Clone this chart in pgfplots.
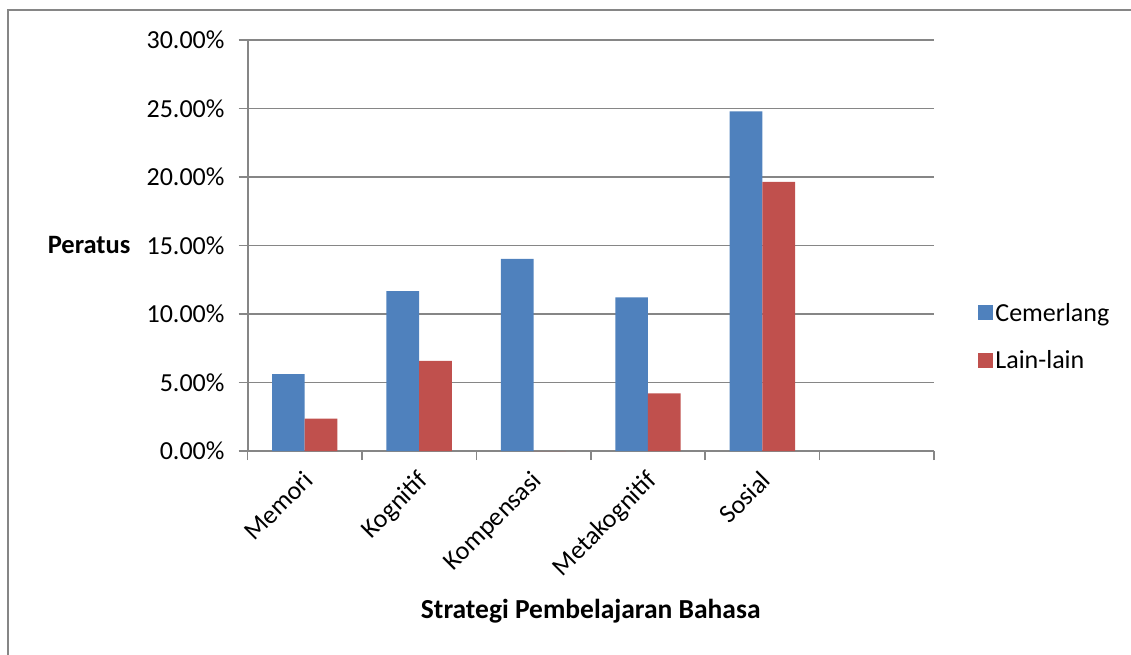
\documentclass[border=0pt]{standalone}
\usepackage{pgfplots}
\pgfplotsset{compat=1.18}
\usepackage{fontspec}
\setmainfont{Carlito}
\definecolor{cblue}{HTML}{4F81BD}
\definecolor{cred}{HTML}{C0504D}
\definecolor{gridgray}{HTML}{868686}
\begin{document}
\begin{tikzpicture}[x=1pt,y=1pt]
\path[use as bounding box] (0,0) rectangle (1131,654);
\draw[gridgray, line width=2pt] (8,-5) -- (8,644) -- (1140,644);
\begin{axis}[
  at={(247.5pt,203pt)}, anchor=south west,
  scale only axis, width=686.5pt, height=411pt,
  xmin=0.5, xmax=6.5, ymin=0, ymax=30,
  axis x line=bottom, axis y line=left,
  axis line style={-, gridgray, line width=2pt},
  every outer x axis line/.append style={-},
  every outer y axis line/.append style={-},
  ybar=0pt, bar width=32.7pt,
  xtick={0.5,1.5,2.5,3.5,4.5,5.5,6.5}, xticklabels={},
  extra x ticks={1,2,3,4,5},
  extra x tick labels={Memori,Kognitif,Kompensasi,Metakognitif,Sosial},
  extra x tick style={major tick length=0pt, grid=none,
    tick label style={xshift=-3pt, yshift=-18pt, rotate=45, anchor=north east, inner sep=0pt, font=\fontsize{26}{30}\selectfont}},
  tick align=outside, major tick length=9pt,
  x tick style={gridgray, line width=1.5pt},
  y tick style={gridgray, line width=1.5pt},
  ytick={0,5,10,15,20,25,30},
  yticklabels={0.00\%,5.00\%,10.00\%,15.00\%,20.00\%,25.00\%,30.00\%},
  yticklabel style={font=\fontsize{26}{30}\selectfont, xshift=-10.5pt},
  ymajorgrids, grid style={gridgray, line width=1.5pt},
  xlabel={\textbf{Strategi Pembelajaran Bahasa}},
  every axis x label/.style={at={(axis description cs:0.5,0)}, anchor=center, yshift=-160pt, font=\fontsize{27.5}{30}\selectfont},
  ylabel={\textbf{Peratus}},
  every axis y label/.style={at={(axis description cs:0,0.5)}, anchor=east, xshift=-113.5pt, font=\fontsize{26.5}{30}\selectfont},
  legend style={draw=none, fill=none, font=\fontsize{26}{30}\selectfont,
    at={(1.06,0.37)}, anchor=north west, row sep=24pt},
  legend cell align=left,
  legend image code/.code={\fill[#1] (0pt,-7.5pt) rectangle (15pt,7.5pt);},
]
\addplot[fill=cblue, draw=none] coordinates {(1,5.62) (2,11.67) (3,14.02) (4,11.21) (5,24.79)};
\addplot[fill=cred, draw=none] coordinates {(1,2.37) (2,6.58) (3,0) (4,4.21) (5,19.65)};
\legend{Cemerlang, Lain-lain}
\end{axis}
\end{tikzpicture}
\end{document}
